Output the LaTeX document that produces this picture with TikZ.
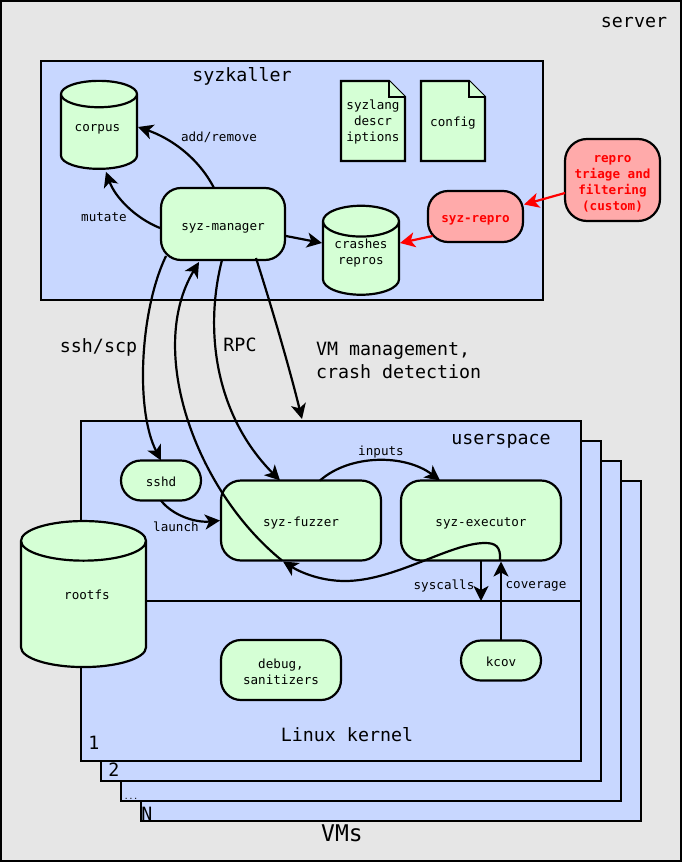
\documentclass[tikz,border=0pt]{standalone}
\usepackage{fontspec}
\setmonofont{DejaVu Sans Mono}
\usetikzlibrary{arrows.meta,shapes.geometric}

\definecolor{serverbg}{HTML}{E6E6E6}
\definecolor{boxblue}{HTML}{C8D7FF}
\definecolor{boxgreen}{HTML}{D5FFD5}
\definecolor{boxred}{HTML}{FFAAAA}

% file icon with a folded corner
\newcommand{\filenode}[5]{
  \draw[fileline] (#2-32,#3-40) -- ++(48,0) -- ++(16,16) -- ++(0,64) -- ++(-64,0) -- cycle;
  \draw[fileline] (#2+16,#3-40) -- ++(0,16) -- ++(16,0);
  \node[smalltext,align=center,text depth=0pt,text height=#5] (#1) at (#2,#3) {#4};
}

\begin{document}
\begin{tikzpicture}[x=1pt,y=-1pt]
\useasboundingbox (0,0) rectangle (682,862);

\tikzstyle{every node}+=[inner sep=0,outer sep=0,font=\ttfamily]
\tikzstyle{every path}+=[line width=2.2pt]
\tikzstyle{arrow}=[-{Stealth[length=15pt,width=15pt,inset=4pt]}]
\tikzstyle{redarrow}=[arrow,red]
\tikzstyle{area}=[draw,fill=boxblue]
\tikzstyle{fileline}=[draw,fill=boxgreen]
\tikzstyle{smalltext}=[font=\ttfamily\fontsize{12.6}{16}\selectfont]
\tikzstyle{bigtext}=[font=\ttfamily\fontsize{18.3}{23.5}\selectfont]
\tikzstyle{block}=[draw,fill=boxgreen,rectangle,rounded corners=20pt,align=center,smalltext,text height=11pt,text depth=0pt]
\tikzstyle{redblock}=[block,fill=boxred,text=red,font=\ttfamily\bfseries\fontsize{12.6}{16}\selectfont]
\tikzstyle{store}=[draw,fill=boxgreen,cylinder,shape border rotate=90,shape aspect=.58,align=center,smalltext]

\node[draw,fill=serverbg,minimum width=680pt,minimum height=860pt] (server) at (341,431) {};
\node[bigtext] (serverlabel) at (634,23) {server};

% syzkaller on the host
\node[area,minimum width=502pt,minimum height=239pt] (syzkaller) at (292,180.5) {};
\node[bigtext] (syzkallerlabel) at (242,76) {syzkaller};

\node[store,minimum width=76pt,minimum height=88pt] (corpus) at (99,132) {\phantom{corpus}};
\node[smalltext] (corpuslabel) at (97.5,129) {corpus};
\filenode{descriptions}{373}{121}{syzlang\\descr\\iptions}{41pt}
\filenode{config}{453}{121}{config}{10pt}
\node[block,text height=12pt,minimum width=124pt,minimum height=72pt] (manager) at (223,224) {syz-manager};
\node[store,minimum width=76pt,minimum height=89pt] (crashes) at (361,258.5) {\phantom{crashes}\\\phantom{repros}};
\node[smalltext,align=center] (crasheslabel) at (361,253) {crashes\\repros};
\node[redblock,minimum width=95pt,minimum height=51pt] (repro) at (475.5,216.5) {syz-repro};
\node[redblock,rounded corners=22pt,text height=60pt,minimum width=95pt,minimum height=82pt] (triage) at (612.5,180) {repro\\triage and\\filtering\\(custom)};

% the stack of VMs
\node[area,minimum width=500pt,minimum height=340pt] (vmn) at (391,651) {};
\node[area,minimum width=500pt,minimum height=340pt] (vmdots) at (371,631) {};
\node[area,minimum width=500pt,minimum height=340pt] (vmtwo) at (351,611) {};
\node[area,minimum width=500pt,minimum height=340pt] (vmone) at (331,591) {};
\coordinate (splitleft) at (81,601);
\coordinate (splitright) at (581,601);
\draw (splitleft) -- (splitright);

\node[bigtext] (userspace) at (501,441) {userspace};
\node[bigtext] (kernel) at (347,735) {Linux kernel};
\node[bigtext] (one) at (94,743) {1};
\node[bigtext] (two) at (114,770) {2};
\node[font=\ttfamily\fontsize{8}{10}\selectfont,anchor=base] (dots) at (131,799) {...};
\node[bigtext] (last) at (147,814) {N};
\node[font=\ttfamily\fontsize{23}{28}\selectfont] (vms) at (342,833) {VMs};

\node[block,minimum width=80pt,minimum height=40pt] (sshd) at (161,480.5) {sshd};
\node[block,minimum width=160pt,minimum height=80pt] (fuzzer) at (301,520.5) {syz-fuzzer};
\node[block,minimum width=160pt,minimum height=80pt] (executor) at (481,520.5) {syz-executor};
\node[block,text height=28pt,minimum width=120pt,minimum height=60pt] (debug) at (281,670) {debug,\\sanitizers};
\node[block,minimum width=80pt,minimum height=40pt] (kcov) at (501,660.5) {kcov};
\node[store,shape aspect=.87,minimum width=125pt,minimum height=146pt] (rootfs) at (83.5,604.5) {\phantom{rootfs}};
\node[smalltext] (rootfslabel) at (87,595) {rootfs};

% connectors
\draw[arrow] ([xshift=-9pt]manager.north) .. controls ++(-16,-31) and (170,138) .. ([shift={(39,-5)}]corpus.center);
\draw[arrow] ([shift={(-1,4)}]manager.west) .. controls ++(-25,-10) and (115,197) .. ([shift={(7,3)}]corpus.south);
\draw[arrow] ([shift={(1,12)}]manager.east) -- ([shift={(-39,-15.5)}]crashes.center);
\draw[redarrow] ([shift={(-43,19.5)}]repro.center) -- ([shift={(39,-15.5)}]crashes.center);
\draw[redarrow] ([shift={(0,13)}]triage.west) -- ([shift={(1,-12)}]repro.east);

\draw[arrow] ([shift={(-57,32)}]manager.center) .. controls (140,310) and (135,410) .. (sshd.north);
\draw[arrow] ([xshift=-1pt]manager.south) .. controls (204,330) and (215,415) .. ([xshift=-21pt]fuzzer.north);
\draw[arrow] ([shift={(33,34)}]manager.center) .. controls (272,308) and (290,370) .. ([shift={(-29,-2)}]vmone.north);
\draw[arrow] ([xshift=-19pt]fuzzer.south) .. controls (195,490) and (146,350) .. ([shift={(-24,2)}]manager.south);
\draw[arrow] ([xshift=19pt]executor.south) .. controls (501,546) and (495,543) .. (485,543) .. controls (450,543) and (395,581) .. (345,581) .. controls (320,581) and (300,572) .. ([shift={(-18,1)}]fuzzer.south);
\draw[arrow] ([xshift=19pt]fuzzer.north) .. controls (350,454) and (405,454) .. ([xshift=-41pt]executor.north);
\draw[arrow] (sshd.south) .. controls (172,515) and (195,523) .. ([xshift=-1pt]fuzzer.west);
\draw[arrow] (executor.south) -- (executor.south |- splitright);
\draw[arrow] (kcov.north) -- ([shift={(20,1)}]executor.south);

% connector labels
\node[smalltext] (addremove) at (219,137) {add/remove};
\node[smalltext] (mutate) at (104,217) {mutate};
\node[smalltext] (inputs) at (381,452) {inputs};
\node[smalltext] (launch) at (176,527) {launch};
\node[smalltext] (syscalls) at (444,586) {syscalls};
\node[smalltext] (coverage) at (536,586) {coverage};
\node[bigtext] (sshlabel) at (98.5,347.5) {ssh/scp};
\node[bigtext] (rpclabel) at (240,345) {RPC};
\node[bigtext,align=left,anchor=west] (vmlabel) at (316,360.5) {VM management,\\crash detection};
\end{tikzpicture}
\end{document}
